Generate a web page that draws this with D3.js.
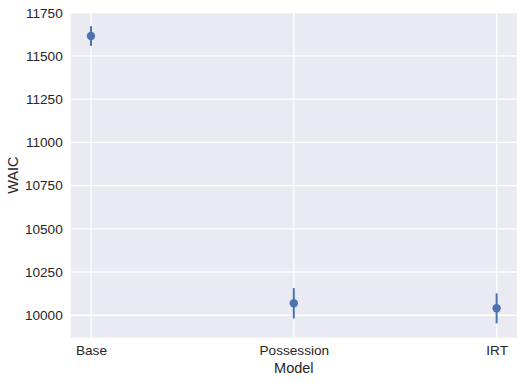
<!DOCTYPE html>
<html><head><meta charset="utf-8">
<script src="https://cdn.jsdelivr.net/npm/d3@7"></script>
<style>body{margin:0;background:#fff}svg{display:block}</style>
</head><body>
<script>
const models = ["Base", "Possession", "IRT"];
const waic = [11615, 10069, 10040];
const waicErr = [57, 88, 87];
const yTicks = [10000, 10250, 10500, 10750, 11000, 11250, 11500, 11750];

const W = 524, H = 384;
const m = {left: 70.7, top: 12.7, right: 524 - 516.9, bottom: 384 - 337.7};
const svg = d3.select("body").append("svg").attr("width", W).attr("height", H);
const iw = W - m.left - m.right, ih = H - m.top - m.bottom;
const g = svg.append("g").attr("transform", `translate(${m.left},${m.top})`);

const x = d3.scaleLinear().domain([-0.1, 2.1]).range([0, iw]);
const y = d3.scaleLinear().domain([9870, 11750]).range([ih, 0]);

g.append("rect").attr("width", iw).attr("height", ih).attr("fill", "#EAEAF2");

// grid
g.selectAll(".hg").data(yTicks).enter().append("line")
  .attr("x1", 0).attr("x2", iw).attr("y1", d => y(d)).attr("y2", d => y(d))
  .attr("stroke", "#fff").attr("stroke-width", 1.3);
g.selectAll(".vg").data(models).enter().append("line")
  .attr("x1", (d, i) => x(i)).attr("x2", (d, i) => x(i)).attr("y1", 0).attr("y2", ih)
  .attr("stroke", "#fff").attr("stroke-width", 1.3);

const font = "'Liberation Sans', Arial, sans-serif";
const yAxis = d3.axisLeft(y).tickValues(yTicks).tickSize(0).tickPadding(8).tickFormat(d3.format("d"));
const ya = g.append("g").call(yAxis);
ya.select(".domain").remove();
ya.selectAll("text").attr("font-family", font).attr("font-size", 13.6).attr("fill", "#262626");

const xAxis = d3.axisBottom(x).tickValues([0, 1, 2]).tickSize(0).tickPadding(8).tickFormat(i => models[i]);
const xa = g.append("g").attr("transform", `translate(0,${ih})`).call(xAxis);
xa.select(".domain").remove();
xa.selectAll("text").attr("font-family", font).attr("font-size", 13.6).attr("fill", "#262626");

// error bars
g.selectAll(".eb").data(waic).enter().append("line")
  .attr("x1", (d, i) => x(i)).attr("x2", (d, i) => x(i))
  .attr("y1", (d, i) => y(d - waicErr[i])).attr("y2", (d, i) => y(d + waicErr[i]))
  .attr("stroke", "#4C72B0").attr("stroke-width", 2);
g.selectAll(".pt").data(waic).enter().append("circle")
  .attr("cx", (d, i) => x(i)).attr("cy", d => y(d)).attr("r", 4.2)
  .attr("fill", "#4C72B0");

svg.append("text").attr("x", m.left + iw / 2).attr("y", 373)
  .attr("text-anchor", "middle").attr("font-family", font).attr("font-size", 14.5)
  .attr("fill", "#262626").text("Model");
svg.append("text").attr("transform", `translate(18,${m.top + ih / 2}) rotate(-90)`)
  .attr("text-anchor", "middle").attr("font-family", font).attr("font-size", 14.5)
  .attr("fill", "#262626").text("WAIC");
</script>
</body></html>
